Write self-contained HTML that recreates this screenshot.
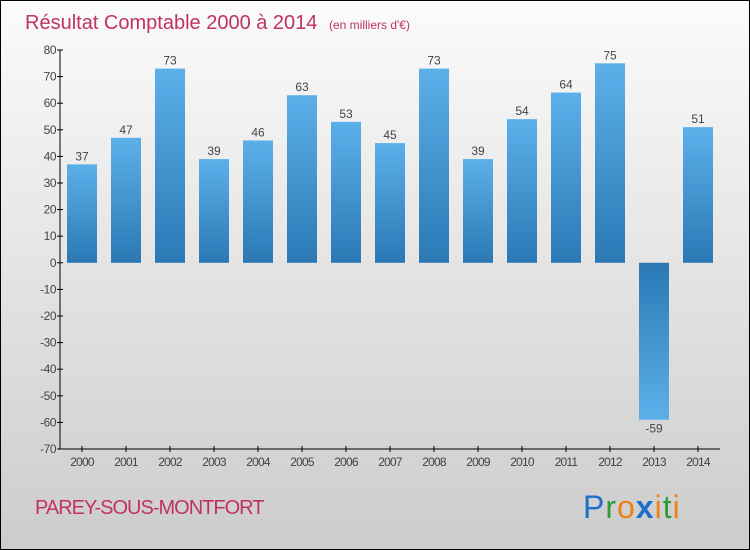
<!DOCTYPE html>
<html><head><meta charset="utf-8"><style>
html,body{margin:0;padding:0}
body{width:750px;height:550px;overflow:hidden}
svg{display:block}
</style></head><body>
<svg id="chart" width="750" height="550" xmlns="http://www.w3.org/2000/svg">
<defs>
<linearGradient id="bg" x1="0" y1="0" x2="0" y2="1"><stop offset="0" stop-color="#fbfbfb"/><stop offset="1" stop-color="#cccccc"/></linearGradient>
<linearGradient id="pos" x1="0" y1="0" x2="0" y2="1"><stop offset="0" stop-color="#5cb0ea"/><stop offset="1" stop-color="#2b78b5"/></linearGradient>
<linearGradient id="neg" x1="0" y1="0" x2="0" y2="1"><stop offset="0" stop-color="#2b78b5"/><stop offset="1" stop-color="#5cb0ea"/></linearGradient>
</defs>
<rect x="0.5" y="0.5" width="749" height="549" fill="url(#bg)" stroke="#000"/>
<text x="25" y="29" font-family="Liberation Sans, sans-serif" font-size="20" fill="#c0335f">Résultat Comptable 2000 à 2014 <tspan font-size="12" dx="6">(en milliers d'€)</tspan></text>
<g id="yaxis"></g>
<g id="xaxis"></g>
<g id="bars"></g>
<text x="35" y="514" font-family="Liberation Sans, sans-serif" font-size="20" fill="#c0335f" letter-spacing="-1">PAREY-SOUS-MONTFORT</text>
<g font-family="Liberation Sans, sans-serif" font-size="32">
<text x="583" y="518" letter-spacing="1"><tspan fill="#1e6fc9">P</tspan><tspan fill="#2f9a3a">r</tspan><tspan fill="#f07f18">o</tspan><tspan fill="#1e6fc9" font-weight="bold">x</tspan><tspan fill="#f07f18">i</tspan><tspan fill="#2f9a3a">t</tspan><tspan fill="#f07f18">i</tspan></text>
</g>
</svg>
<script>
const years = ["2000","2001","2002","2003","2004","2005","2006","2007","2008","2009","2010","2011","2012","2013","2014"];
const values = [37,47,73,39,46,63,53,45,73,39,54,64,75,-59,51];
const yTicks = [80,70,60,50,40,30,20,10,0,-10,-20,-30,-40,-50,-60,-70];
const NS="http://www.w3.org/2000/svg";
const yMin=-70,yMax=80,pTop=50,pBot=449,pLeft=60,pRight=720;
function yPos(v){return pBot-(v-yMin)/(yMax-yMin)*(pBot-pTop);}
function xPos(i){return 82+i*((pRight-pLeft-44)/(years.length-1));}
function mk(tag,attrs,parent){const e=document.createElementNS(NS,tag);for(const k in attrs)e.setAttribute(k,attrs[k]);parent.appendChild(e);return e;}
const ya=document.getElementById('yaxis'),xa=document.getElementById('xaxis'),bg=document.getElementById('bars');
mk('line',{x1:pLeft,y1:pTop,x2:pLeft,y2:pBot,stroke:'#000'},ya);
yTicks.forEach(t=>{
 mk('line',{x1:pLeft-3,y1:yPos(t),x2:pLeft+3,y2:yPos(t),stroke:'#000'},ya);
 const tx=mk('text',{x:pLeft-4,y:yPos(t)+4,'text-anchor':'end','font-family':'Liberation Sans, sans-serif','font-size':'12',fill:'#444','letter-spacing':'-0.5'},ya);
 tx.textContent=t;
 
 
});
mk('line',{x1:pLeft,y1:pBot,x2:pRight,y2:pBot,stroke:'#000'},xa);
years.forEach((yr,i)=>{
 mk('line',{x1:xPos(i),y1:pBot-3,x2:xPos(i),y2:pBot+3,stroke:'#000'},xa);
 const tx=mk('text',{x:xPos(i),y:pBot+17,'text-anchor':'middle','font-family':'Liberation Sans, sans-serif','font-size':'12',fill:'#444','letter-spacing':'-0.8'},xa);
 tx.textContent=yr;
 
 
 const v=values[i];
 const y0=yPos(0),y1=yPos(v);
 const r=mk('rect',{x:xPos(i)-15,y:Math.min(y0,y1),width:30,height:Math.abs(y1-y0),fill:v>=0?'url(#pos)':'url(#neg)'},bg);
 
 
 const lb=mk('text',{x:xPos(i),y:v>=0?y1-4:y1+13,'text-anchor':'middle','font-family':'Liberation Sans, sans-serif','font-size':'12',fill:'#444'},bg);
 lb.textContent=v;
 
 
});
</script>
</body></html>
